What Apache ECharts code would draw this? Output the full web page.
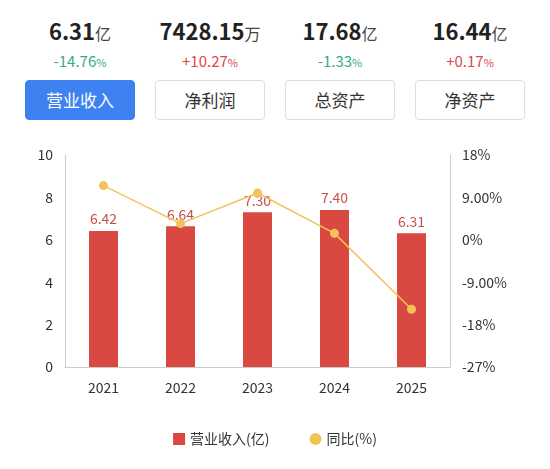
<!DOCTYPE html>
<html><head><meta charset="utf-8">
<script src="https://cdn.jsdelivr.net/npm/echarts@6/dist/echarts.min.js"></script>
<style>
body{margin:0;width:550px;height:469px;background:#fff;font-family:"Noto Sans CJK SC","Noto Sans",sans-serif;overflow:hidden}
.stats{position:absolute;top:14px;left:0;width:550px}
.s{position:absolute;width:130px;text-align:center}
.v{font-size:22px;font-weight:bold;color:#222}
.v small{font-size:16px;font-weight:normal;color:#444}
.p{font-size:15px;margin-top:4px}
.btn{position:absolute;top:80px;width:110px;height:40px;border:1px solid #ddd;border-radius:4px;text-align:center;line-height:38px;font-size:17px;color:#333;box-sizing:border-box}
.btn.on{background:#3d82f0;color:#fff;border-color:#3d82f0}
#c{position:absolute;left:0;top:130px;width:550px;height:339px}
</style></head><body>
<div class="stats" id="stats"></div>
<div id="btns"></div>
<div id="c"></div>
<script>
const statValues = ['6.31', '7428.15', '17.68', '16.44'];
const statUnits = ['亿', '万', '亿', '亿'];
const statChanges = ['-14.76', '+10.27', '-1.33', '+0.17'];
const tabs = ['营业收入', '净利润', '总资产', '净资产'];
const years = ['2021', '2022', '2023', '2024', '2025'];
const revenue = [6.42, 6.64, 7.30, 7.40, 6.31];
const yoy = [11.5, 3.43, 9.94, 1.37, -14.76];
const rightLabels = {18: '18%', 9: '9.00%', 0: '0%', '-9': '-9.00%', '-18': '-18%', '-27': '-27%'};

const centers = [80, 210, 340, 470];
let sh = '', bh = '';
statValues.forEach((v, i) => {
  const up = statChanges[i][0] === '+';
  sh += `<div class="s" style="left:${centers[i]-65}px"><div class="v">${v}<small>${statUnits[i]}</small></div>` +
    `<div class="p" style="color:${up ? '#e0474c' : '#3aa88f'}">${statChanges[i]}<small style="font-size:11px">%</small></div></div>`;
  bh += `<div class="btn${i === 0 ? ' on' : ''}" style="left:${centers[i]-55}px">${tabs[i]}</div>`;
});
document.getElementById('stats').innerHTML = sh;
document.getElementById('btns').innerHTML = bh;

const chart = echarts.init(document.getElementById('c'));
chart.setOption({
  textStyle: {fontFamily: 'Noto Sans CJK SC'},
  grid: {left: 65, right: 100, top: 25, bottom: 102},
  legend: {
    bottom: 18, itemGap: 40, itemWidth: 12, itemHeight: 12,
    textStyle: {fontSize: 14, color: '#333'},
    data: [{name: '营业收入(亿)', icon: 'rect'}, {name: '同比(%)', icon: 'circle'}]
  },
  xAxis: {
    type: 'category', data: years,
    axisLine: {lineStyle: {color: '#ccc'}}, axisTick: {show: false},
    axisLabel: {color: '#333', fontSize: 14, margin: 14}
  },
  yAxis: [{
    type: 'value', min: 0, max: 10, interval: 2,
    axisLine: {show: true, lineStyle: {color: '#ccc'}}, splitLine: {show: false},
    axisLabel: {color: '#333', fontSize: 14, margin: 12}
  }, {
    type: 'value', min: -27, max: 18, interval: 9,
    axisLine: {show: true, lineStyle: {color: '#ccc'}}, splitLine: {show: false},
    axisLabel: {color: '#333', fontSize: 14, margin: 12, formatter: v => rightLabels[v]}
  }],
  series: [{
    name: '营业收入(亿)', type: 'bar', data: revenue, barWidth: 29,
    itemStyle: {color: '#d94841'},
    label: {show: true, position: 'top', color: '#c8504a', fontSize: 14, formatter: p => p.value.toFixed(2)}
  }, {
    name: '同比(%)', type: 'line', yAxisIndex: 1, data: yoy,
    symbol: 'circle', symbolSize: 9,
    lineStyle: {color: '#f3c35a', width: 1.5}, itemStyle: {color: '#f3c35a'}
  }]
});
</script></body></html>
